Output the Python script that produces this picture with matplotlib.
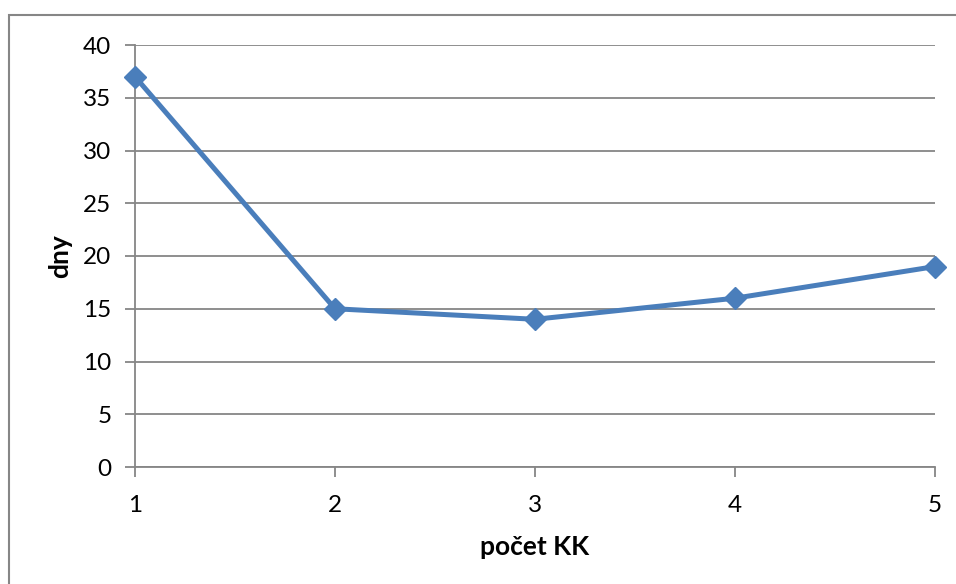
import matplotlib.pyplot as plt
from matplotlib.patches import Rectangle

# data
kk = [1, 2, 3, 4, 5]
dny = [37, 15, 14, 16, 19]
y_ticks = [0, 5, 10, 15, 20, 25, 30, 35, 40]

plt.rcParams['font.family'] = ['Lato', 'DejaVu Sans']

fig = plt.figure(figsize=(9.56, 5.84), dpi=100)
ax = fig.add_axes([135 / 956, 1 - 467 / 584, 800 / 956, 422 / 584])

grey = '#868686'

# chart frame (only top/left visible in the reference)
fig.patches.append(Rectangle((9 / 956, -0.1), 1.1, 1 - 15 / 584 + 0.1,
                             transform=fig.transFigure, fill=False,
                             edgecolor=grey, linewidth=1.5))

ax.plot(kk, dny, color='#4a7ebb', linewidth=3.6, marker='D',
        markersize=11, markeredgecolor='#4a7ebb', clip_on=False, zorder=3)

ax.set_xlim(1, 5)
ax.set_ylim(0, 40)
ax.set_xticks(kk)
ax.set_yticks(y_ticks)
ax.yaxis.grid(True, color=grey, linewidth=1.3)
ax.set_axisbelow(True)

for s in ['top', 'right']:
    ax.spines[s].set_visible(False)
for s in ['left', 'bottom']:
    ax.spines[s].set_color(grey)
    ax.spines[s].set_linewidth(1.3)

ax.tick_params(axis='both', colors=grey, labelcolor='black', labelsize=17.5,
               length=7, width=1.3, direction='out')
ax.tick_params(axis='y', pad=10)
ax.tick_params(axis='x', pad=13)

ax.set_xlabel('počet KK', fontsize=19, fontweight='bold', labelpad=14)
ax.set_ylabel('dny', fontsize=19, fontweight='bold', labelpad=8)

fig.savefig('out.png', dpi=100)
